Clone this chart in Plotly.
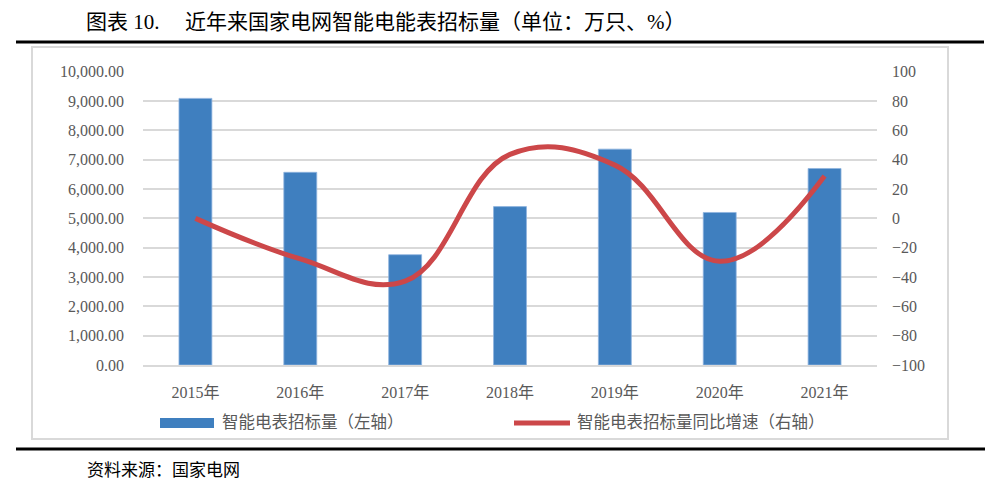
import plotly.graph_objects as go

# ---------------- data ----------------
years = ["2015年", "2016年", "2017年", "2018年", "2019年", "2020年", "2021年"]
tender_volume = [9090, 6570, 3760, 5400, 7360, 5200, 6700]          # 万只 (left axis)
yoy_growth = [0.0, -27.7, -42.8, 43.6, 36.3, -29.3, 28.8]           # % (right axis)
left_ticks = [0, 1000, 2000, 3000, 4000, 5000, 6000, 7000, 8000, 9000, 10000]
right_ticks = [-100, -80, -60, -40, -20, 0, 20, 40, 60, 80, 100]
series_names = ["智能电表招标量（左轴）", "智能电表招标量同比增速（右轴）"]
title_prefix = "图表 10."
title_text = "近年来国家电网智能电能表招标量（单位：万只、%）"
source_text = "资料来源：国家电网"

# ---------------- style ----------------
W, H = 990, 488
BAR_COLOR = "#3F7FBF"
LINE_COLOR = "#CC4749"
GRID = "#D9D9D9"
TXT = "#595959"
FONT = "Liberation Serif, Noto Sans CJK SC, serif"


def px(x):
    return x / W


def py(y):
    return 1 - y / H


fig = go.Figure()
fig.add_trace(go.Bar(
    x=years, y=tender_volume, name=series_names[0],
    marker=dict(color=BAR_COLOR, line=dict(color="#8FB4DE", width=0.8)),
    yaxis="y", showlegend=False,
))
fig.add_trace(go.Scatter(
    x=years, y=yoy_growth, name=series_names[1], mode="lines",
    line=dict(color=LINE_COLOR, width=5, shape="spline", smoothing=1.15),
    yaxis="y2", showlegend=False,
))

fig.update_layout(
    template="none",
    width=W, height=H, autosize=False,
    margin=dict(l=0, r=0, t=0, b=0, pad=0),
    paper_bgcolor="white", plot_bgcolor="white",
    font=dict(family=FONT, color=TXT, size=16),
    bargap=0.686,
    xaxis=dict(
        domain=[px(143), px(877)], automargin=False,
        showline=True, linecolor=GRID, linewidth=2,
        ticks="", showgrid=False, zeroline=False,
        tickfont=dict(size=16, color=TXT, family=FONT),
        ticklabelstandoff=12,
    ),
    yaxis=dict(
        domain=[py(365), py(71.7)], automargin=False,
        range=[0, 10000], tickvals=left_ticks,
        tickformat=",.2f",
        showgrid=True, gridcolor=GRID, gridwidth=2,
        zeroline=False, showline=False, ticks="",
        tickfont=dict(size=16, color=TXT, family=FONT),
        ticklabelstandoff=18,
    ),
    yaxis2=dict(
        overlaying="y", side="right", automargin=False,
        range=[-100, 100], tickvals=right_ticks,
        showgrid=False, zeroline=False, showline=False, ticks="",
        tickfont=dict(size=16, color=TXT, family=FONT),
        ticklabelstandoff=14,
    ),
    showlegend=False,
)

shapes = [
    # chart frame
    dict(type="rect", xref="paper", yref="paper",
         x0=px(32), x1=px(948), y0=py(439), y1=py(47),
         line=dict(color=GRID, width=2), fillcolor="rgba(0,0,0,0)", layer="below"),
    # top and bottom black rules
    dict(type="line", xref="paper", yref="paper",
         x0=px(16), x1=px(984), y0=py(42), y1=py(42),
         line=dict(color="black", width=3)),
    dict(type="line", xref="paper", yref="paper",
         x0=px(16), x1=px(985), y0=py(449), y1=py(449),
         line=dict(color="black", width=3)),
    # legend keys
    dict(type="rect", xref="paper", yref="paper",
         x0=px(160), x1=px(214), y0=py(428), y1=py(418),
         line=dict(width=0), fillcolor=BAR_COLOR),
    dict(type="line", xref="paper", yref="paper",
         x0=px(514), x1=px(570), y0=py(423), y1=py(423),
         line=dict(color=LINE_COLOR, width=5)),
]
fig.update_layout(shapes=shapes)

annotations = [
    dict(text=title_prefix, x=px(84), y=py(22), xref="paper", yref="paper",
         xanchor="left", yanchor="middle", showarrow=False,
         font=dict(size=21, color="black", family=FONT)),
    dict(text=title_text, x=px(183), y=py(22), xref="paper", yref="paper",
         xanchor="left", yanchor="middle", showarrow=False,
         font=dict(size=21, color="black", family=FONT)),
    dict(text=series_names[0], x=px(220), y=py(422), xref="paper", yref="paper",
         xanchor="left", yanchor="middle", showarrow=False,
         font=dict(size=16.5, color=TXT, family=FONT)),
    dict(text=series_names[1], x=px(575), y=py(422), xref="paper", yref="paper",
         xanchor="left", yanchor="middle", showarrow=False,
         font=dict(size=16.5, color=TXT, family=FONT)),
    dict(text=source_text, x=px(85), y=py(470), xref="paper", yref="paper",
         xanchor="left", yanchor="middle", showarrow=False,
         font=dict(size=17, color="black", family=FONT)),
]
fig.update_layout(annotations=annotations)

fig.write_html(
    "out.html",
    config={"displayModeBar": False},
    post_script="document.body.style.margin='0';document.body.style.overflow='hidden';",
)
